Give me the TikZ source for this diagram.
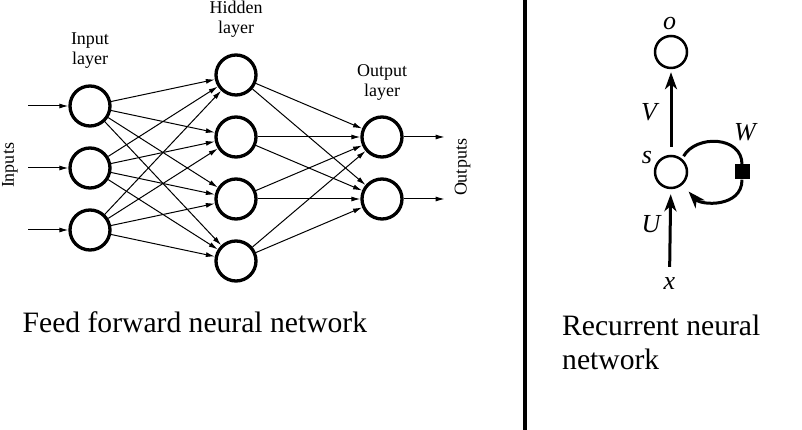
\documentclass[tikz,border=0pt]{standalone}
\usepackage{fontspec}
\setmainfont{Liberation Serif}
\usetikzlibrary{arrows.meta}

\begin{document}
\begin{tikzpicture}[x=1pt,y=1pt,
  neuron/.style={circle,draw,line width=3.3pt,minimum size=40pt,inner sep=0pt},
  link/.style={line width=1pt,-{Latex[length=9pt,width=5pt]}},
  cell/.style={circle,draw,line width=2.5pt,minimum size=32pt,inner sep=0pt},
  rnnline/.style={line width=3pt},
  rnnarrow/.style={line width=3pt,-{Stealth[length=17pt,width=12pt,inset=5pt]}},
  laylabel/.style={align=center,font=\fontsize{18}{20}\selectfont,inner sep=0pt},
  caption/.style={font=\fontsize{29.6}{34}\selectfont,inner sep=0pt},
  rlabel/.style={font=\fontsize{26}{28}\selectfont\itshape,inner sep=0pt}]
\useasboundingbox (0,0) rectangle (802,430);
%Нейроны сети прямого распространения
\foreach \i/\y in {1/324,2/262,3/200} \node[neuron] (in\i) at (90,\y) {};
\foreach \i/\y in {1/355,2/293,3/231,4/169} \node[neuron] (hid\i) at (236,\y) {};
\foreach \i/\y in {1/293,2/231} \node[neuron] (out\i) at (382,\y) {};
%Связи между слоями
\foreach \i in {1,2,3} \foreach \j in {1,...,4} \draw[link] (in\i) -- (hid\j);
\foreach \j in {1,...,4} \foreach \k in {1,2} \draw[link] (hid\j) -- (out\k);
%Входы и выходы
\foreach \i in {1,2,3} {
  \coordinate (src\i) at ([xshift=-40pt]in\i.west);
  \draw[link] (src\i) -- (in\i);
}
\foreach \k in {1,2} {
  \coordinate (dst\k) at ([xshift=41pt]out\k.east);
  \draw[link] (out\k) -- (dst\k);
}
\node[laylabel,rotate=90] (inputs) at (10,264.5) {Inputs};
\node[laylabel,rotate=90] (outputs) at (462.5,262.5) {Outputs};
%Подписи слоев
\node[laylabel] (inlab) at (90,379.5) {Input\\layer};
\node[laylabel] (hidlab) at (236,410.5) {Hidden\\layer};
\node[laylabel] (outlab) at (382,347.5) {Output\\layer};
\node[caption,anchor=base west] (ffcap) at (22.5,97) {Feed forward neural network};
%Разделитель
\draw[line width=4.5pt] (525,0) -- (525,430);
%Рекуррентная сеть
\node[cell] (o) at (671,378) {};
\node[cell] (s) at (671,258) {};
\node[fill,minimum size=15pt,inner sep=0pt] (wsq) at (742,258) {};
\node[rlabel] (olab) at (669.5,406) {o};
\node[rlabel] (vlab) at (649,318) {V};
\node[rlabel] (slab) at (647,272.5) {s};
\node[rlabel] (ulab) at (651,206) {U};
\node[rlabel] (xlab) at (669.5,146) {x};
\node[rlabel] (wlab) at (745,298) {W};
\draw[rnnarrow,shorten <=8pt,shorten >=3pt] (s) -- (o);
\draw[rnnarrow,shorten <=11pt,shorten >=5pt] (xlab.north) -- (s);
%Петля W
\draw[rnnline,shorten <=3pt] (s.50) to[out=60,in=90,looseness=1.2] (wsq.north);
\draw[rnnarrow,shorten >=9pt] (wsq.south) to[out=-90,in=-48,looseness=1.2] (s.-48);
\node[caption,anchor=north west,align=left] (rnncap) at (562,115) {Recurrent neural\\network};
\end{tikzpicture}
\end{document}
